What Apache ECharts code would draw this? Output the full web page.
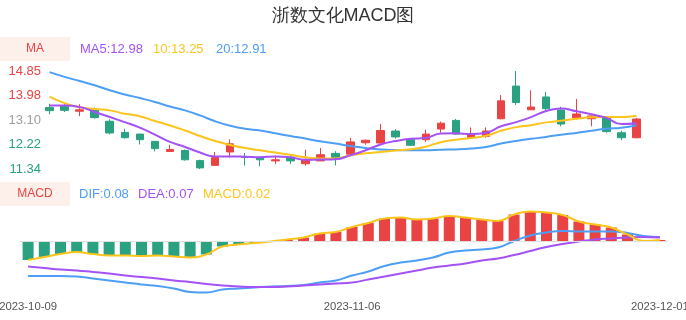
<!DOCTYPE html>
<html>
<head>
<meta charset="utf-8">
<script src="https://cdn.jsdelivr.net/npm/echarts@6/dist/echarts.min.js"></script>
<style>html,body{margin:0;padding:0;background:#fff;}#c{width:686px;height:320px;}</style>
</head>
<body>
<div id="c"></div>
<script>
const title = '浙数文化MACD图';
const dates = ['2023-10-09','2023-10-10','2023-10-11','2023-10-12','2023-10-13','2023-10-16','2023-10-17','2023-10-18','2023-10-19','2023-10-20',
'2023-10-23','2023-10-24','2023-10-25','2023-10-26','2023-10-27','2023-10-30','2023-10-31','2023-11-01','2023-11-02','2023-11-03',
'2023-11-06','2023-11-07','2023-11-08','2023-11-09','2023-11-10','2023-11-13','2023-11-14','2023-11-15','2023-11-16','2023-11-17',
'2023-11-20','2023-11-21','2023-11-22','2023-11-23','2023-11-24','2023-11-27','2023-11-28','2023-11-29','2023-11-30','2023-12-01'];
const openP  = [13.54,13.61,13.41,13.46,13.05,12.65,12.59,12.33,11.97,12.00,11.64,11.47,11.95,11.78,11.76,11.63,11.76,11.53,11.63,11.90,11.87,12.28,12.27,12.70,12.39,12.39,12.77,13.08,12.47,12.51,13.14,14.31,13.46,13.92,13.45,13.18,13.14,13.17,12.64,12.46];
const closeP = [13.43,13.44,13.46,13.18,12.63,12.46,12.39,12.07,12.04,11.67,11.38,11.75,12.24,11.76,11.67,11.67,11.63,11.67,11.85,11.75,12.31,12.37,12.72,12.49,12.19,12.59,12.98,12.59,12.57,12.70,13.78,13.72,13.56,13.50,12.95,13.31,13.24,12.68,12.46,13.13];
const lowP   = [13.30,13.38,13.23,13.14,12.58,12.43,12.22,11.97,11.95,11.64,11.34,11.45,11.75,11.46,11.44,11.52,11.52,11.46,11.63,11.47,11.86,12.21,12.25,12.43,12.16,12.31,12.64,12.57,12.45,12.46,13.12,13.63,13.45,13.38,12.87,13.11,12.87,12.64,12.37,12.44];
const highP  = [13.68,13.68,13.66,13.54,13.12,12.78,12.60,12.34,12.21,12.04,11.67,11.95,12.40,11.91,11.77,11.82,11.83,12.03,12.09,11.98,12.45,12.39,12.95,12.77,12.45,12.75,13.04,13.13,12.83,12.83,13.99,14.85,14.16,14.10,13.57,13.85,13.25,13.18,12.71,13.17];
const ma5  = [13.61,13.61,13.56,13.38,13.20,13.02,12.82,12.57,12.31,12.13,11.93,11.79,11.79,11.78,11.76,11.79,11.76,11.67,11.68,11.69,11.83,12.01,12.22,12.34,12.42,12.45,12.61,12.62,12.59,12.64,12.87,13.02,13.20,13.42,13.51,13.41,13.30,13.17,12.95,12.98];
const ma10 = [13.93,13.70,13.55,13.49,13.44,13.32,13.23,13.06,12.90,12.72,12.52,12.34,12.20,12.09,12.01,11.93,11.85,11.76,11.72,11.72,11.83,11.90,11.95,12.00,12.05,12.14,12.30,12.39,12.45,12.53,12.71,12.84,12.91,13.01,13.07,13.14,13.19,13.20,13.20,13.25];
const ma20 = [14.81,14.64,14.49,14.34,14.16,14.01,13.88,13.74,13.58,13.44,13.26,13.05,12.89,12.78,12.72,12.62,12.52,12.43,12.33,12.25,12.16,12.09,12.04,12.02,12.01,12.01,12.03,12.04,12.07,12.13,12.25,12.34,12.42,12.49,12.57,12.63,12.71,12.78,12.82,12.91];
const macd = [-0.38,-0.32,-0.26,-0.22,-0.26,-0.29,-0.29,-0.30,-0.29,-0.31,-0.33,-0.27,-0.11,-0.07,-0.04,-0.01,0.03,0.07,0.15,0.18,0.28,0.36,0.45,0.47,0.43,0.45,0.50,0.47,0.43,0.40,0.53,0.59,0.57,0.52,0.39,0.33,0.27,0.13,0.00,0.02];
const dif  = [-0.70,-0.70,-0.70,-0.71,-0.75,-0.79,-0.83,-0.87,-0.90,-0.95,-1.02,-1.03,-0.97,-0.95,-0.93,-0.91,-0.90,-0.88,-0.83,-0.79,-0.69,-0.61,-0.50,-0.43,-0.39,-0.33,-0.23,-0.19,-0.17,-0.13,0.00,0.11,0.17,0.20,0.19,0.19,0.19,0.16,0.10,0.08];
const dea  = [-0.51,-0.54,-0.57,-0.59,-0.62,-0.65,-0.69,-0.72,-0.75,-0.79,-0.82,-0.86,-0.89,-0.91,-0.92,-0.92,-0.91,-0.89,-0.87,-0.85,-0.83,-0.77,-0.71,-0.65,-0.59,-0.53,-0.49,-0.45,-0.39,-0.35,-0.28,-0.20,-0.12,-0.06,-0.01,0.03,0.05,0.07,0.08,0.07];
const priceTicks = ['11.34','12.22','13.10','13.98','14.85'];
const xLabelIdx = [0, 20, 39];

const RED = '#ea4343', GREEN = '#2aa282', PURPLE = '#a552f5', YELLOW = '#fcc41c', BLUE = '#4d9ef5', GREY = '#9e9e9e';
const tickColors = [GREEN, GREEN, GREY, RED, RED];
const last = a => a[a.length - 1].toFixed(2);
const pMin = parseFloat(priceTicks[0]), pMax = parseFloat(priceTicks[priceTicks.length - 1]);

const kData = dates.map((d, i) => [openP[i], closeP[i], lowP[i], highP[i]]);
const chart = echarts.init(document.getElementById('c'), null, {renderer: 'canvas'});
const txt = (x, y, s, color, size, align) => ({type: 'text', x: x, y: y, style: {text: s, fill: color, font: size + 'px sans-serif', textAlign: align || 'left', textVerticalAlign: 'middle'}});
chart.setOption({
  animation: false,
  title: {text: title, left: 'center', top: 2, textStyle: {fontSize: 18, fontWeight: 'normal', color: '#333'}},
  graphic: [
    {type: 'rect', shape: {x: 0, y: 37, width: 70, height: 24}, style: {fill: '#fdf0eb'}},
    txt(35, 49, 'MA', RED, 12, 'center'),
    txt(80, 49, 'MA5:' + last(ma5), PURPLE, 13),
    txt(153, 49, '10:' + last(ma10), YELLOW, 13),
    txt(216, 49, '20:' + last(ma20), BLUE, 13),
    {type: 'rect', shape: {x: 0, y: 182, width: 70, height: 24}, style: {fill: '#fdf0eb'}},
    txt(35, 194, 'MACD', RED, 12, 'center'),
    txt(79, 194, 'DIF:' + last(dif), BLUE, 13),
    txt(138, 194, 'DEA:' + last(dea), PURPLE, 13),
    txt(203, 194, 'MACD:' + last(macd), YELLOW, 13)
  ],
  grid: [
    {left: 42, right: 42, top: 71, height: 98, outerBoundsMode: 'none', containLabel: false},
    {left: 20, right: 18, top: 206, height: 90, outerBoundsMode: 'none', containLabel: false}
  ],
  xAxis: [
    {type: 'category', gridIndex: 0, data: dates, boundaryGap: true, show: false},
    {type: 'category', gridIndex: 1, data: dates, boundaryGap: true,
     axisLine: {show: false, onZero: false}, axisTick: {show: false}, splitLine: {show: false},
     axisLabel: {interval: (i) => xLabelIdx.indexOf(i) >= 0, color: '#555', fontSize: 11.3, margin: 5, hideOverlap: false}}
  ],
  yAxis: [
    {type: 'value', gridIndex: 0, min: pMin, max: pMax, show: false},
    {type: 'value', gridIndex: 0, min: 0, max: priceTicks.length - 1, interval: 1, position: 'left',
     axisLine: {show: false}, axisTick: {show: false}, splitLine: {show: false},
     axisLabel: {margin: 1, fontSize: 13, formatter: (v) => priceTicks[Math.round(v)], color: (v) => tickColors[Math.round(v)]}},
    {type: 'value', gridIndex: 1, min: -1.1, max: 0.7, show: false}
  ],
  series: [
    {type: 'candlestick', xAxisIndex: 0, yAxisIndex: 0, data: kData, barWidth: 8,
     itemStyle: {color: RED, color0: GREEN, borderColor: RED, borderColor0: GREEN, borderWidth: 1}},
    {type: 'line', xAxisIndex: 0, yAxisIndex: 0, data: ma20, smooth: true, symbol: 'none', lineStyle: {width: 2, color: BLUE}},
    {type: 'line', xAxisIndex: 0, yAxisIndex: 0, data: ma10, smooth: true, symbol: 'none', lineStyle: {width: 2, color: YELLOW}},
    {type: 'line', xAxisIndex: 0, yAxisIndex: 0, data: ma5, smooth: true, symbol: 'none', lineStyle: {width: 2, color: PURPLE}},
    {type: 'bar', xAxisIndex: 1, yAxisIndex: 2, data: macd, barWidth: 11,
     itemStyle: {color: (p) => p.value >= 0 ? RED : GREEN},
     markLine: {silent: true, symbol: 'none', label: {show: false}, lineStyle: {color: '#e0e0e0', width: 1, type: 'solid'}, data: [{yAxis: 0}]}},
    {type: 'line', xAxisIndex: 1, yAxisIndex: 2, data: dif, smooth: true, symbol: 'none', lineStyle: {width: 2, color: BLUE}},
    {type: 'line', xAxisIndex: 1, yAxisIndex: 2, data: dea, smooth: true, symbol: 'none', lineStyle: {width: 2, color: PURPLE}},
    {type: 'line', xAxisIndex: 1, yAxisIndex: 2, data: macd, smooth: true, symbol: 'none', lineStyle: {width: 2, color: YELLOW}}
  ]
});
</script>
</body>
</html>
